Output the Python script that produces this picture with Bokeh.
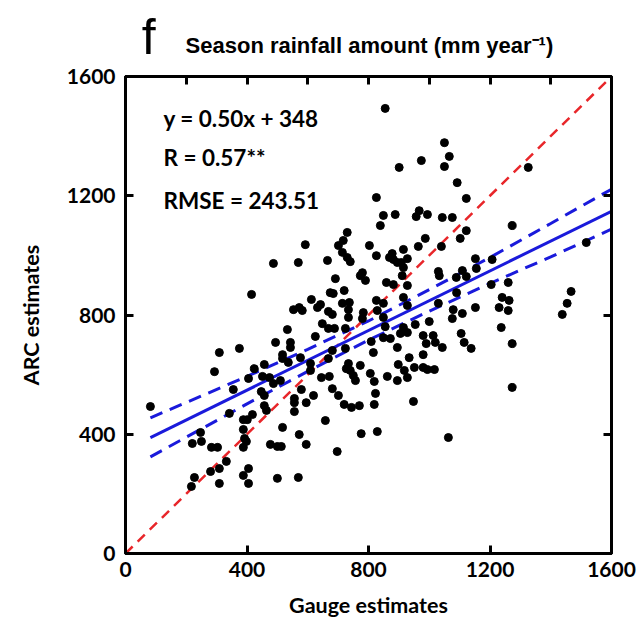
from bokeh.plotting import figure
from bokeh.models import LinearAxis, FixedTicker, Label, Range1d
from bokeh.layouts import column
from bokeh.embed import file_html
from bokeh.resources import INLINE

# Gauge estimates (x) and ARC estimates (y)
gauge = [82, 217, 227, 220, 247, 250, 283, 303, 280, 309, 309, 332, 293, 309, 375, 355, 342, 388, 401, 388,
         392, 398, 388, 405, 388, 405, 424, 405, 418, 415, 487, 569, 592, 553, 572, 582, 612, 632, 642, 533,
         494, 543, 543, 517, 517, 457, 451, 474, 487, 510, 536, 576, 609, 609, 447, 457, 457, 464, 517, 572,
         595, 477, 500, 513, 500, 569, 579, 556, 556, 556, 595, 619, 658, 697, 625, 645, 671, 681, 701, 720,
         744, 770, 776, 648, 668, 688, 724, 734, 668, 681, 714, 737, 734, 674, 684, 720, 665, 691, 773, 717,
         714, 730, 740, 730, 701, 668, 681, 724, 734, 727, 750, 757, 773, 855, 901, 974, 826, 849, 888, 839,
         803, 826, 878, 869, 882, 895, 908, 915, 928, 915, 780, 790, 859, 882, 911, 928, 826, 849, 915, 928,
         964, 987, 967, 957, 994, 780, 829, 849, 855, 849, 872, 895, 905, 915, 928, 954, 980, 1000, 1013, 990,
         1020, 1043, 1030, 740, 806, 816, 819, 823, 819, 862, 895, 898, 918, 928, 934, 951, 980, 980, 994, 1017,
         948, 829, 1063, 783, 1050, 1066, 1050, 1092, 1122, 1043, 1076, 1122, 1102, 1040, 1030, 1033, 1089, 1109, 1122,
         1152, 1155, 1207, 1260, 1204, 1240, 1263, 1152, 1079, 1076, 1109, 1105, 1115, 1138, 1230, 1260, 1237, 1273,
         1273, 1326, 1273, 1438, 1454, 1467, 1517, 1090, 809]
arc = [493, 225, 255, 369, 406, 376, 356, 356, 275, 285, 235, 309, 610, 674, 688, 550, 470, 449, 449, 416,
       386, 376, 356, 285, 262, 235, 620, 587, 466, 869, 973, 976, 1036, 818, 825, 815, 852, 825, 835, 751,
       708, 708, 691, 667, 654, 634, 594, 590, 570, 580, 641, 657, 637, 614, 543, 530, 496, 480, 423, 399,
       366, 366, 359, 359, 252, 255, 550, 520, 506, 476, 506, 530, 446, 342, 728, 590, 594, 553, 530, 500,
       490, 496, 402, 771, 755, 755, 755, 792, 812, 802, 839, 842, 818, 875, 872, 882, 983, 922, 932, 1050,
       1010, 993, 979, 1077, 1033, 654, 681, 688, 637, 620, 597, 580, 631, 1493, 1295, 1318, 1194, 1134, 1137, 1100,
       1033, 999, 1006, 993, 986, 976, 976, 1020, 989, 959, 942, 916, 909, 902, 932, 899, 849, 839, 859, 832,
       1030, 1057, 1150, 1130, 1137, 788, 815, 792, 761, 724, 721, 691, 738, 758, 741, 768, 731, 778, 731, 704,
       708, 691, 839, 614, 604, 674, 577, 537, 500, 594, 580, 634, 614, 590, 657, 624, 667, 624, 617, 617,
       510, 409, 389, 808, 1378, 1332, 1298, 1244, 1191, 1127, 1127, 1083, 1057, 1030, 946, 932, 926, 949, 929,
       989, 956, 986, 909, 902, 859, 849, 825, 818, 788, 805, 738, 708, 688, 825, 815, 758, 704,
       1100, 1295, 557, 802, 839, 879, 1043, 875, 711]

# Regression reported in the figure and its 95% confidence band
slope = 0.50
intercept = 348
fit_x = [82, 1600]
band_x = [82, 400, 600, 800, 1000, 1200, 1400, 1600]
band_upper = [455, 594, 685, 780, 885, 993, 1107, 1222]
band_lower = [324, 502, 611, 716, 813, 906, 995, 1088]
one_to_one = [0, 1600]

tick_major = [0, 400, 800, 1200, 1600]
tick_top = [0, 200, 400, 600, 800, 1000, 1200, 1400, 1600]

panel_letter = "f"
title_text = "Season rainfall amount (mm year\u207b\u00b9)"
stats_lines = ["y = 0.50x + 348", "R = 0.57**", "RMSE = 243.51"]

LAB_FONT = "Lato"
BORDER_L, BORDER_R = 125, 29
HEAD_H = 60

# ---- header strip with panel letter and title (same horizontal frame as the scatter) ----
head = figure(width=640, height=HEAD_H, x_range=Range1d(0, 1600), y_range=Range1d(0, HEAD_H),
              output_backend="svg", toolbar_location=None,
              min_border_left=BORDER_L, min_border_right=BORDER_R, min_border_top=0, min_border_bottom=0,
              x_axis_location=None, y_axis_location=None)
head.grid.visible = False
head.outline_line_color = None
head.add_layout(Label(x=76, y=23.5, text=panel_letter, text_font="Liberation Sans", text_font_size="50px",
                      text_line_height=0.9, text_align="center", text_baseline="middle",
                      text_color="black"))
head.add_layout(Label(x=803, y=15, text=title_text, text_font="Liberation Sans", text_font_style="bold",
                      text_font_size="22px", text_align="center", text_baseline="middle",
                      text_color="black"))

# ---- main scatter ----
p = figure(width=640, height=627 - HEAD_H, x_range=Range1d(0, 1600), y_range=Range1d(0, 1600),
           output_backend="svg", toolbar_location=None,
           min_border_left=BORDER_L, min_border_right=BORDER_R, min_border_top=76 - HEAD_H,
           min_border_bottom=74)
p.grid.visible = False
p.outline_line_color = "black"
p.outline_line_width = 3
p.background_fill_color = "white"
p.border_fill_color = "white"


def style_axis(ax, ticks, labels=True):
    ax.ticker = FixedTicker(ticks=ticks)
    ax.axis_line_width = 3
    ax.axis_line_color = "black"
    ax.major_tick_in = 8
    ax.major_tick_out = 0
    ax.major_tick_line_width = 3
    ax.major_tick_line_color = "black"
    ax.minor_tick_line_color = None
    if labels:
        ax.major_label_text_font = LAB_FONT
        ax.major_label_text_font_style = "bold"
        ax.major_label_text_font_size = "21px"
        ax.major_label_text_color = "black"
    else:
        ax.major_label_text_color = None
        ax.major_label_text_font_size = "0px"
        ax.major_label_standoff = 0


xa = p.xaxis[0]
ya = p.yaxis[0]
style_axis(xa, tick_major)
style_axis(ya, tick_major)
xa.major_label_standoff = 8
ya.major_label_standoff = 10
xa.axis_label = "Gauge estimates"
ya.axis_label = "ARC estimates"
for ax in (xa, ya):
    ax.axis_label_text_font = LAB_FONT
    ax.axis_label_text_font_style = "bold"
    ax.axis_label_text_font_size = "21.5px"
    ax.axis_label_text_color = "black"
xa.axis_label_standoff = 12
ya.axis_label_standoff = 20

top = LinearAxis()
style_axis(top, tick_top, labels=False)
p.add_layout(top, "above")
right = LinearAxis()
style_axis(right, tick_major, labels=False)
p.add_layout(right, "right")

# 1:1 line
p.line(one_to_one, one_to_one, line_color="#e8262a", line_width=2.5, line_dash="10 7")

# regression line and confidence band
p.line(fit_x, [slope * v + intercept for v in fit_x], line_color="#1a1adb", line_width=3)
p.line(band_x, band_upper, line_color="#1a1adb", line_width=3, line_dash="13 8")
p.line(band_x, band_lower, line_color="#1a1adb", line_width=3, line_dash="13 8")

# points
p.scatter(gauge, arc, size=8, marker="circle", fill_color="black", line_color="black")

# statistics text
for yv, txt in zip([1459, 1328, 1184], stats_lines):
    p.add_layout(Label(x=125, y=yv, text=txt, text_font=LAB_FONT, text_font_style="bold",
                       text_font_size="22.5px", text_baseline="middle", text_color="black"))

layout = column(head, p, spacing=0)
open("out.html", "w").write(file_html(layout, INLINE))
